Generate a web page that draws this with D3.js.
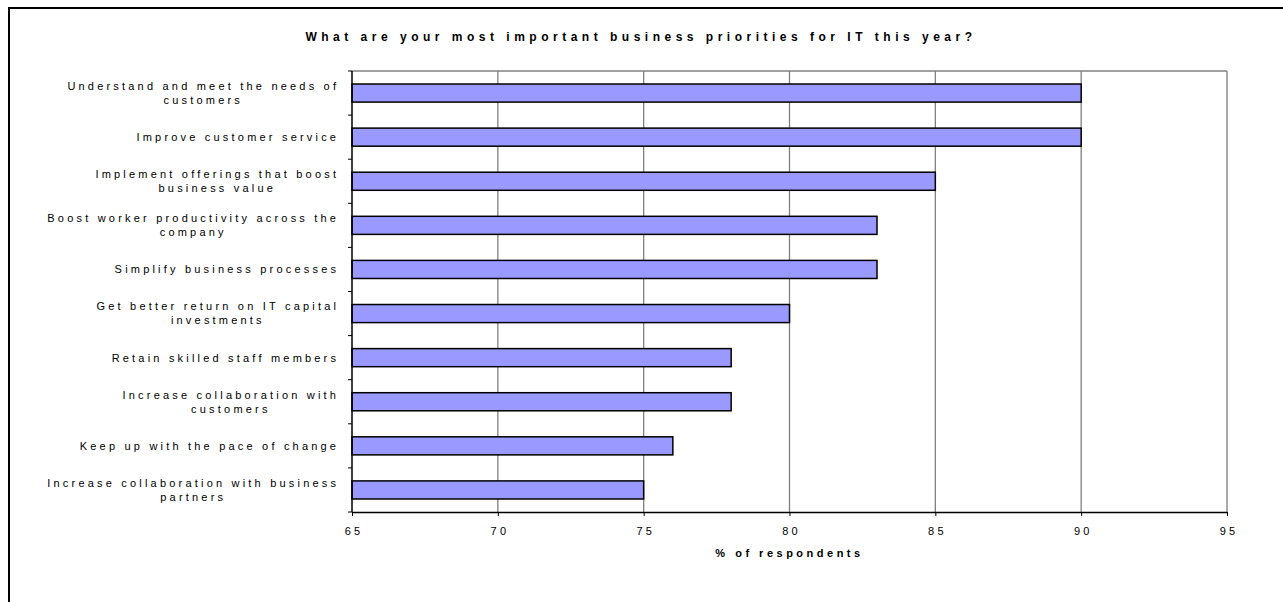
<!DOCTYPE html>
<html>
<head>
<meta charset="utf-8">
<script src="https://cdn.jsdelivr.net/npm/d3@7"></script>
<style>
  body { margin: 0; background: #fff; }
  svg { display: block; }
  text { font-family: "Liberation Sans", Arial, sans-serif; fill: #000; }
</style>
</head>
<body>
<svg id="chart" width="1283" height="602"></svg>
<script>
// data
var categories = [
  "Understand and meet the needs of\ncustomers",
  "Improve customer service",
  "Implement offerings that boost\nbusiness value",
  "Boost worker productivity across the\ncompany",
  "Simplify business processes",
  "Get better return on IT capital\ninvestments",
  "Retain skilled staff members",
  "Increase collaboration with\ncustomers",
  "Keep up with the pace of change",
  "Increase collaboration with business\npartners"
];
var values = [90, 90, 85, 83, 83, 80, 78, 78, 76, 75];
var xTicks = [65, 70, 75, 80, 85, 90, 95];
var title = "What are your most important business priorities for IT this year?";
var xTitle = "% of respondents";

var svg = d3.select("#chart"),
    plotL = 352, plotR = 1227, plotT = 71, plotB = 512,
    ls = 3.2;

// outer frame (only left/top edges visible)
svg.append("rect")
    .attr("x", 9).attr("y", 8)
    .attr("width", 1300).attr("height", 700)
    .attr("fill", "none").attr("stroke", "#000").attr("stroke-width", 2);

var x = d3.scaleLinear().domain([65, 95]).range([plotL, plotR]);
var y = d3.scaleBand().domain(d3.range(categories.length)).range([plotT, plotB]);

// grid lines + frame
svg.append("g").selectAll("line")
    .data(xTicks.slice(1))
    .join("line")
    .attr("x1", d => x(d)).attr("x2", d => x(d))
    .attr("y1", plotT).attr("y2", plotB)
    .attr("stroke", "#808080").attr("stroke-width", 1.3);

svg.append("line")
    .attr("x1", plotL).attr("x2", plotR)
    .attr("y1", plotT).attr("y2", plotT)
    .attr("stroke", "#808080").attr("stroke-width", 1.3);

// bars
var bh = y.bandwidth() * 0.41;
svg.append("g").selectAll("rect")
    .data(values)
    .join("rect")
    .attr("x", x(65))
    .attr("y", (d, i) => y(i) + (y.bandwidth() - bh) / 2)
    .attr("width", d => x(d) - x(65))
    .attr("height", bh)
    .attr("fill", "#9999ff")
    .attr("stroke", "#000")
    .attr("stroke-width", 1.5);

// x axis
var xAxis = svg.append("g")
    .attr("transform", "translate(0," + plotB + ")")
    .call(d3.axisBottom(x).tickValues(xTicks).tickSize(4).tickPadding(11).tickSizeOuter(0));
xAxis.select(".domain").attr("stroke", "#000").attr("stroke-width", 1.5);
xAxis.selectAll(".tick line").attr("stroke", "#000");
xAxis.selectAll(".tick text")
    .style("font-family", '"Liberation Sans", Arial, sans-serif')
    .style("font-size", "11px")
    .style("letter-spacing", ls + "px")
    .attr("dx", (ls / 2) + "px");

// y axis: line + ticks at band edges
svg.append("line")
    .attr("x1", plotL).attr("x2", plotL)
    .attr("y1", plotT).attr("y2", plotB)
    .attr("stroke", "#000").attr("stroke-width", 1.5);
svg.append("g").selectAll("line")
    .data(d3.range(categories.length + 1))
    .join("line")
    .attr("x1", plotL - 4).attr("x2", plotL)
    .attr("y1", i => plotT + i * y.bandwidth())
    .attr("y2", i => plotT + i * y.bandwidth())
    .attr("stroke", "#000");

// category labels: block right-aligned, lines centred inside block
var labelRight = 336, lineH = 14;
categories.forEach(function (c, i) {
  var lines = c.split("\n");
  var cy = y(i) + y.bandwidth() / 2;
  var g = svg.append("g");
  var texts = lines.map(function (ln, j) {
    return g.append("text")
      .attr("y", cy + (j - (lines.length - 1) / 2) * lineH)
      .attr("dy", "0.35em")
      .attr("text-anchor", "middle")
      .style("font-size", "11px")
      .style("letter-spacing", ls + "px")
      .text(ln);
  });
  var w = d3.max(texts, t => t.node().getComputedTextLength()) - ls;
  var cx = labelRight - w / 2;
  texts.forEach(t => t.attr("x", cx + ls / 2));
});

// title
svg.append("text")
    .attr("x", 641).attr("y", 41)
    .attr("text-anchor", "middle")
    .style("font-size", "12px")
    .style("font-weight", "bold")
    .style("letter-spacing", "4.5px")
    .text(title);

// x axis title
svg.append("text")
    .attr("x", (plotL + plotR) / 2).attr("y", 557)
    .attr("text-anchor", "middle")
    .style("font-size", "11px")
    .style("font-weight", "bold")
    .style("letter-spacing", "3.5px")
    .text(xTitle);
</script>
</body>
</html>
